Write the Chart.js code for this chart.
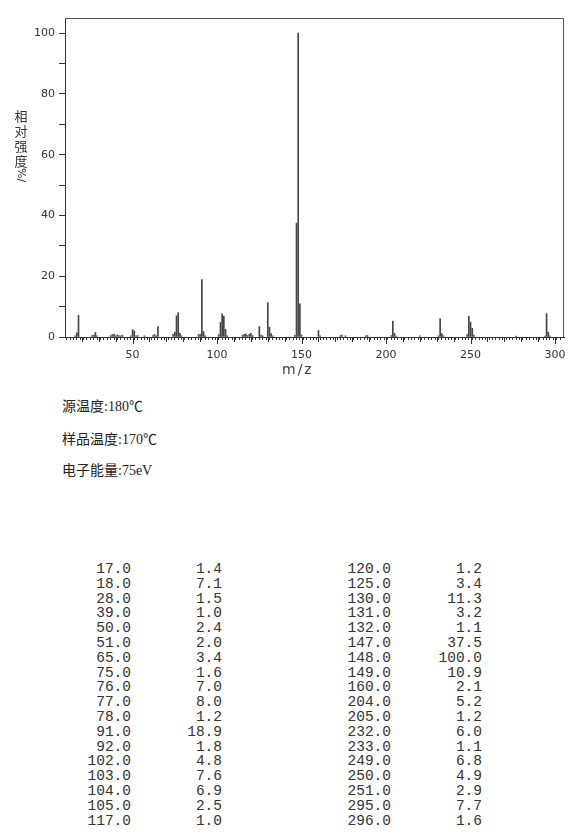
<!DOCTYPE html>
<html>
<head>
<meta charset="utf-8">
<script src="https://cdn.jsdelivr.net/npm/chart.js@4.4.1/dist/chart.umd.min.js"></script>
<style>
  body { margin: 0; background: #fff; width: 570px; height: 832px; position: relative; overflow: hidden; }
  #wrap { position: absolute; left: 0; top: 0; width: 570px; height: 380px; }
  .ytitle { position: absolute; left: 13px; top: 108px; width: 16px; font: 13px/15px "Noto Sans CJK SC", sans-serif; color: #333; text-align: center; }
  .ytitle .rot { display: inline-block; writing-mode: vertical-rl; font-family: "DejaVu Sans", sans-serif; font-size: 11px; }
  .xtitle { position: absolute; left: 282px; top: 361px; font: 14px "DejaVu Sans", sans-serif; color: #444; letter-spacing: 2px; }
  .info { position: absolute; left: 62px; font: 14px "Liberation Serif", "Noto Sans CJK SC", serif; color: #222; line-height: 16px; }
  .cell { position: absolute; font: 14.5px "Liberation Mono", monospace; color: #333; text-align: right; line-height: 15px; }
</style>
</head>
<body>
<div id="wrap"><canvas id="chart"></canvas></div>
<div class="ytitle">相<br>对<br>强<br>度<br><span class="rot">%/</span></div>
<div class="xtitle">m/z</div>
<div class="info" style="top:399px">源温度:180℃</div>
<div class="info" style="top:432px">样品温度:170℃</div>
<div class="info" style="top:463px">电子能量:75eV</div>
<div id="table"></div>
<script>
// listed peaks (m/z, relative intensity %)
var mz = [17,18,28,39,50,51,65,75,76,77,78,91,92,102,103,104,105,117,
          120,125,130,131,132,147,148,149,160,204,205,232,233,249,250,251,295,296];
var intensity = [1.4,7.1,1.5,1.0,2.4,2.0,3.4,1.6,7.0,8.0,1.2,18.9,1.8,4.8,7.6,6.9,2.5,1.0,
                 1.2,3.4,11.3,3.2,1.1,37.5,100.0,10.9,2.1,5.2,1.2,6.0,1.1,6.8,4.9,2.9,7.7,1.6];
// small peaks seen in the plot but not in the table (estimated)
var minorMz = [16,26,27,29,37,38,40,41,42,43,44,49,52,53,57,62,63,64,74,79,89,90,93,101,106,
               115,116,118,119,121,126,127,133,146,150,161,173,174,176,188,189,203,206,220,
               231,234,248,252,277,294,297];
var minorIntensity = [0.4,0.5,0.6,0.4,0.5,0.8,0.4,0.7,0.5,0.4,0.6,0.4,0.4,0.5,0.4,0.5,0.9,0.4,0.9,0.4,0.8,0.9,0.4,0.8,0.4,
                      0.6,0.9,0.5,0.9,0.5,0.6,0.4,0.4,0.6,0.7,0.4,0.5,0.6,0.4,0.4,0.5,0.5,0.3,0.4,
                      0.4,0.4,0.8,0.6,0.3,0.3,0.4];
var xMin = 10, xMax = 305.3, yMax = 105;

var rowsPerCol = 18;
var html = '';
for (var i = 0; i < mz.length; i++) {
  var col = i < rowsPerCol ? 0 : 1;
  var r = i % rowsPerCol;
  var rowTop = Math.round(562 + r * 14.8);
  var mzRight = col ? 391 : 131, inRight = col ? 482 : 222;
  html += '<div class="cell" style="top:' + rowTop + 'px;left:' + (mzRight - 70) + 'px;width:70px">' + mz[i].toFixed(1) + '</div>';
  html += '<div class="cell" style="top:' + rowTop + 'px;left:' + (inRight - 70) + 'px;width:70px">' + intensity[i].toFixed(1) + '</div>';
}
document.getElementById('table').innerHTML = html;

var frame = {
  id: 'frame',
  afterDraw: function (chart) {
    var a = chart.chartArea, ctx = chart.ctx, xs = chart.scales.x;
    ctx.save();
    ctx.strokeStyle = '#555';
    ctx.lineWidth = 1;
    ctx.beginPath();
    ctx.moveTo(a.left, a.top + 0.5);
    ctx.lineTo(a.right - 0.5, a.top + 0.5);
    ctx.lineTo(a.right - 0.5, a.bottom);
    ctx.stroke();
    // longer ticks every 10 units
    ctx.strokeStyle = '#333';
    ctx.beginPath();
    for (var v = 20; v <= 300; v += 10) {
      var px = Math.round(xs.getPixelForValue(v)) + 0.5;
      ctx.moveTo(px, a.bottom);
      ctx.lineTo(px, a.bottom + (v % 50 === 0 ? 7 : 5));
    }
    ctx.stroke();
    ctx.restore();
  }
};

new Chart(document.getElementById('chart'), {
  type: 'bar',
  data: {
    datasets: [{
      data: mz.map(function (m, i) { return {x: m, y: intensity[i]}; }),
      backgroundColor: '#444', barThickness: 1, grouped: false
    }, {
      data: minorMz.map(function (m, i) { return {x: m, y: minorIntensity[i]}; }),
      backgroundColor: '#555', barThickness: 1, grouped: false
    }]
  },
  options: {
    responsive: true,
    maintainAspectRatio: false,
    animation: false,
    layout: { padding: { top: 18, right: 6, left: 0, bottom: 0 } },
    plugins: { legend: { display: false }, tooltip: { enabled: false } },
    scales: {
      x: {
        type: 'linear', min: xMin, max: xMax, offset: false,
        afterBuildTicks: function (s) { s.ticks = s.ticks.filter(function (t) { return t.value % 2 === 0 && t.value <= 304; }); },
        afterFit: function (s) { s.height = 43; },
        grid: { drawOnChartArea: false, drawTicks: true, tickLength: 3, tickColor: '#333' },
        border: { color: '#333' },
        ticks: {
          stepSize: 2, maxTicksLimit: 1000, autoSkip: false, maxRotation: 0, padding: 9,
          color: '#333', font: { family: 'DejaVu Sans', size: 11 },
          callback: function (v) { return v % 50 === 0 ? String(v) : ''; }
        }
      },
      y: {
        min: 0, max: yMax,
        afterBuildTicks: function (s) { s.ticks = s.ticks.filter(function (t) { return t.value <= 100; }); },
        afterFit: function (s) { s.width = 65; },
        grid: { drawOnChartArea: false, drawTicks: true, tickLength: 6, tickColor: '#333' },
        border: { color: '#333' },
        ticks: {
          stepSize: 10, autoSkip: false, padding: 4,
          color: '#333', font: { family: 'DejaVu Sans', size: 11 },
          callback: function (v) { return v % 20 === 0 ? String(v) : ''; }
        }
      }
    }
  },
  plugins: [frame]
});
</script>
</body>
</html>
